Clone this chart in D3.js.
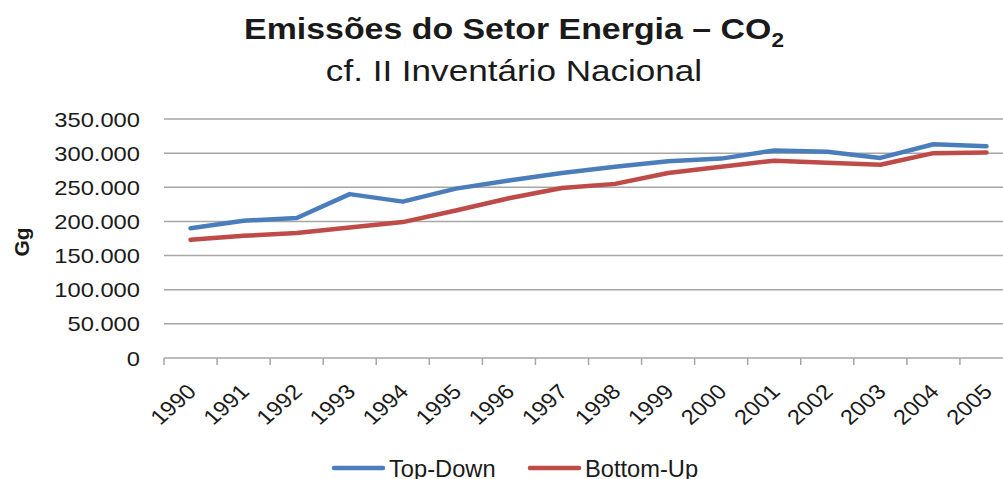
<!DOCTYPE html>
<html>
<head>
<meta charset="utf-8">
<script src="https://cdn.jsdelivr.net/npm/d3@7/dist/d3.min.js"></script>
<style>
  body { margin: 0; background: #fff; }
  svg { display: block; font-family: "Liberation Sans", Arial, sans-serif; }
</style>
</head>
<body>
<svg id="chart" width="1003" height="479"></svg>
<script>
// data
var years = ["1990", "1991", "1992", "1993", "1994", "1995", "1996", "1997",
             "1998", "1999", "2000", "2001", "2002", "2003", "2004", "2005"];
var topDown = [190000, 201000, 205000, 240000, 229000, 248000, 260000, 271000,
               280000, 288000, 292000, 304000, 302000, 293000, 313000, 310000];
var bottomUp = [173000, 179000, 183000, 191000, 199000, 216000, 234000, 249000,
                255000, 271000, 280000, 289000, 286000, 283000, 300000, 301000];
var yTicks = [0, 50000, 100000, 150000, 200000, 250000, 300000, 350000];

var seriesNames = ["Top-Down", "Bottom-Up"];
var colors = ["#4a7ebb", "#be4b48"];

var svg = d3.select("#chart");
var sx = 1.13; // the original picture is a bit wide

// plot area
var plotLeft = 164, plotRight = 1013, plotTop = 119, plotBottom = 358;

var x = d3.scaleBand().domain(years).range([plotLeft, plotRight]);
var y = d3.scaleLinear().domain([0, 350000]).range([plotBottom, plotTop]);

function place(px, py, s) {
  return "translate(" + px + "," + py + ") scale(" + (s || sx) + ",1)";
}

// Title
var title = svg.append("text")
  .attr("transform", place(514, 39))
  .attr("text-anchor", "middle")
  .style("font-size", "30px").style("font-weight", "bold").style("fill", "#1a1a1a");
title.append("tspan").text("Emissões do Setor Energia – CO");
title.append("tspan").attr("dy", 8).style("font-size", "20px").text("2");

svg.append("text")
  .attr("transform", place(514, 80.5, 1.17))
  .attr("text-anchor", "middle")
  .style("font-size", "30px").style("fill", "#1a1a1a")
  .text("cf. II Inventário Nacional");

// gridlines
svg.append("g")
  .selectAll("line")
  .data(yTicks.slice(1))
  .enter().append("line")
  .attr("x1", plotLeft).attr("x2", 1003)
  .attr("y1", function (d) { return y(d); })
  .attr("y2", function (d) { return y(d); })
  .style("stroke", "#a6a6a6")
  .style("stroke-width", 1.5);

// y axis labels
var fmt = function (d) { return d === 0 ? "0" : d3.format(",")(d).replace(/,/g, "."); };
svg.append("g")
  .selectAll("text")
  .data(yTicks)
  .enter().append("text")
  .attr("transform", function (d) { return place(140, y(d) + 7.5); })
  .attr("text-anchor", "end")
  .style("font-size", "21px").style("fill", "#1a1a1a")
  .text(fmt);

// x axis
var xAxis = svg.append("g")
  .attr("transform", "translate(0," + plotBottom + ")");
xAxis.append("line")
  .attr("x1", plotLeft).attr("x2", 1003)
  .style("stroke", "#a6a6a6").style("stroke-width", 1.5);
xAxis.selectAll(".tick")
  .data(years)
  .enter().append("line")
  .attr("class", "tick")
  .attr("x1", function (d) { return x(d); })
  .attr("x2", function (d) { return x(d); })
  .attr("y1", 0).attr("y2", 7)
  .style("stroke", "#a6a6a6").style("stroke-width", 1.5);
xAxis.selectAll(".lbl")
  .data(years)
  .enter().append("text")
  .attr("class", "lbl")
  .attr("text-anchor", "end")
  .attr("transform", function (d) {
    return place(x(d) + x.bandwidth() / 2 + 7, 35) + " rotate(-45)";
  })
  .style("font-size", "21px").style("fill", "#1a1a1a")
  .text(function (d) { return d; });

// y axis title
svg.append("text")
  .attr("transform", "translate(28.5,242) rotate(-90)")
  .attr("text-anchor", "middle")
  .style("font-size", "21px").style("font-weight", "bold").style("fill", "#1a1a1a")
  .text("Gg");

// lines
var line = d3.line()
  .x(function (d, i) { return x(years[i]) + x.bandwidth() / 2; })
  .y(function (d) { return y(d); });

[topDown, bottomUp].forEach(function (vals, i) {
  svg.append("path")
    .datum(vals)
    .attr("d", line)
    .style("fill", "none")
    .style("stroke", colors[i])
    .style("stroke-width", 4.5)
    .style("stroke-linejoin", "round")
    .style("stroke-linecap", "round");
});

// legend
var legendX = [334, 530];
var legend = svg.append("g");
seriesNames.forEach(function (name, i) {
  legend.append("line")
    .attr("x1", legendX[i]).attr("x2", legendX[i] + 49)
    .attr("y1", 468).attr("y2", 468)
    .style("stroke", colors[i])
    .style("stroke-width", 4.5)
    .style("stroke-linecap", "round");
  legend.append("text")
    .attr("transform", place(legendX[i] + 55, 476.5, 1.03))
    .style("font-size", "23px").style("fill", "#1a1a1a")
    .text(name);
});
</script>
</body>
</html>
